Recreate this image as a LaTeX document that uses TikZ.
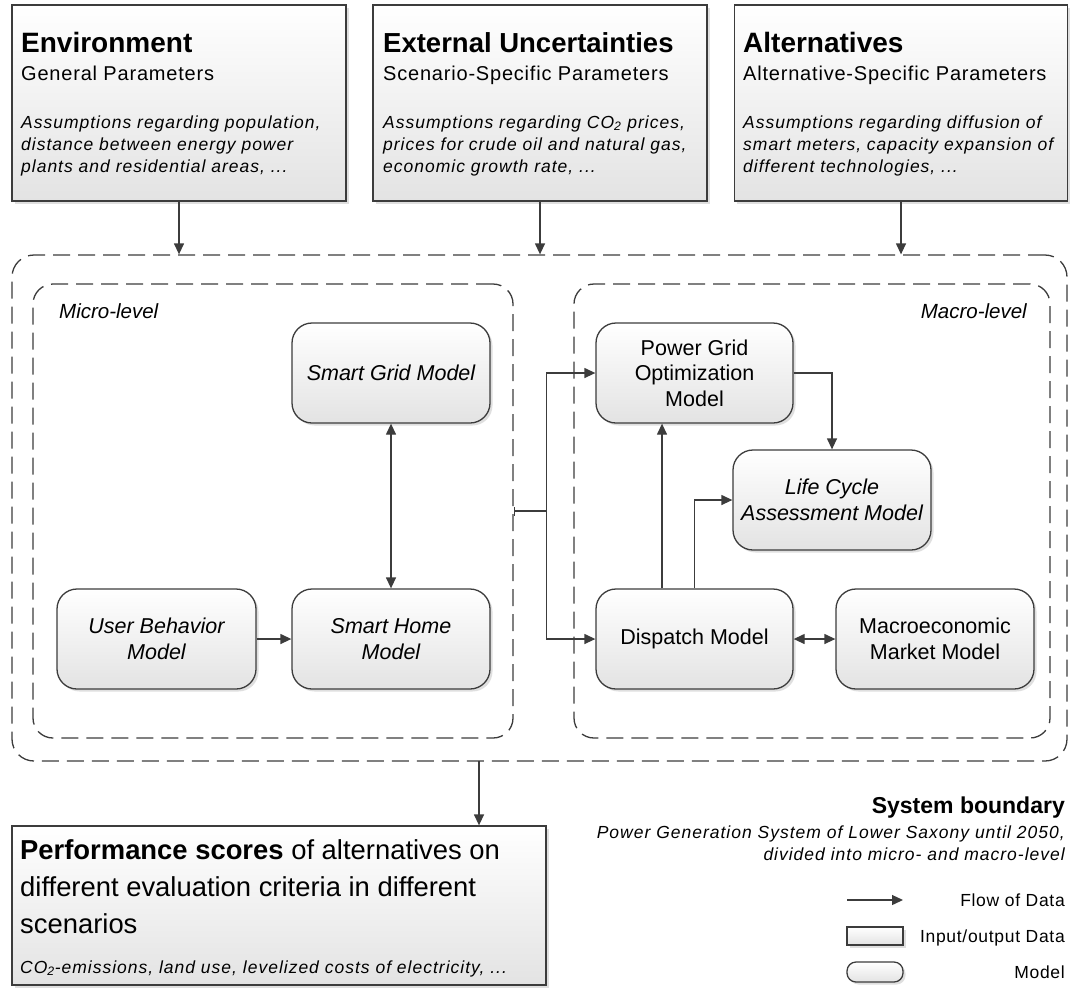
\documentclass[tikz,border=0pt]{standalone}
\usepackage{fontspec}
\setmainfont{Liberation Sans}
\newfontfamily\spit[LetterSpace=5.7]{Liberation Sans}
\newfontfamily\spreg[LetterSpace=4]{Liberation Sans}
\usetikzlibrary{arrows.meta,shadows,calc}
\definecolor{lc}{HTML}{3C3C3C}
\newcommand{\fs}[2]{\fontsize{#1}{#2}\selectfont}
\tikzset{
  ln/.style={draw=lc, line width=1.3pt},
  databox/.style={ln, rectangle, top color=white, bottom color=black!11,
    drop shadow={shadow xshift=2.5pt, shadow yshift=-2.5pt, fill=black!25}, inner sep=0pt},
  modelbox/.style={databox, rounded corners=20pt, minimum width=198pt, minimum height=100pt,
    align=center, text=black},
  boundary/.style={draw=lc, line width=1.3pt, dash pattern=on 17pt off 8pt, rounded corners=22pt,
    rectangle, inner sep=0pt},
  lbl/.style={inner sep=0pt, anchor=base west, text=black},
  lblr/.style={inner sep=0pt, anchor=base east, text=black},
  smallit/.style={font=\spit\fs{17.5}{22}\itshape},
  smallrg/.style={font=\spreg\fs{17.5}{22}},
  subt/.style={font=\spreg\fs{20}{24}},
  mdl/.style={font=\fs{21.5}{25.5}},
  mdlit/.style={font=\fs{21.5}{25.5}\itshape},
  flow/.style={draw=lc, line width=1.3pt, -{Triangle[length=11pt,width=10pt]}},
  flowtwo/.style={draw=lc, line width=1.3pt, {Triangle[length=11pt,width=10pt]}-{Triangle[length=11pt,width=10pt]}},
}
\begin{document}
\begin{tikzpicture}[x=1pt,y=-1pt]
\useasboundingbox (0,0) rectangle (1070,989);

% boundaries
\node[boundary, minimum width=1055pt, minimum height=506pt] (sys) at (539.5,508) {};
\node[boundary, minimum width=480pt, minimum height=454pt, rounded corners=20pt] (micro) at (273,511) {};
\node[boundary, minimum width=476pt, minimum height=454pt, rounded corners=20pt] (macro) at (812,511) {};
\node[lbl, font=\fs{20.5}{24}\itshape] (microL) at (59,318) {Micro-level};
\node[lblr, font=\fs{20.5}{24}\itshape] (macroL) at (1027,318) {Macro-level};

% top data boxes
\node[databox, minimum width=334pt, minimum height=196pt] (env) at (179,103) {};
\node[databox, minimum width=334pt, minimum height=196pt] (ext) at (540,103) {};
\node[databox, minimum width=333pt, minimum height=196pt] (alt) at (901,103) {};

\node[lbl, font=\fs{28}{32}\bfseries] (envT) at (21,52) {Environment};
\node[lbl, subt] (envS) at (21,80) {General Parameters};
\node[lbl, smallit] (envA) at (21,128) {Assumptions regarding population,};
\node[lbl, smallit] (envB) at (21,150) {distance between energy power};
\node[lbl, smallit] (envC) at (21,172) {plants and residential areas, ...};

\node[lbl, font=\fs{27.5}{32}\bfseries] (extT) at (383,52) {External Uncertainties};
\node[lbl, subt] (extS) at (383,80) {Scenario-Specific Parameters};
\node[lbl, smallit] (extA) at (383,128) {Assumptions regarding CO\textsubscript{2} prices,};
\node[lbl, smallit] (extB) at (383,150) {prices for crude oil and natural gas,};
\node[lbl, smallit] (extC) at (383,172) {economic growth rate, ...};

\node[lbl, font=\fs{28}{32}\bfseries] (altT) at (743,52) {Alternatives};
\node[lbl, subt] (altS) at (743,80) {Alternative-Specific Parameters};
\node[lbl, smallit] (altA) at (743,128) {Assumptions regarding diffusion of};
\node[lbl, smallit] (altB) at (743,150) {smart meters, capacity expansion of};
\node[lbl, smallit] (altC) at (743,172) {different technologies, ...};

% models
\node[modelbox, mdlit] (sg) at (391,373) {Smart Grid Model};
\node[modelbox, mdlit] (sh) at (391,639) {Smart Home\\Model};
\node[modelbox, minimum width=199pt, mdlit] (ub) at (156.5,639) {User Behavior\\Model};
\node[modelbox, minimum width=197pt, mdl] (pgo) at (694.5,373) {Power Grid\\Optimization\\Model};
\node[modelbox, minimum width=197pt, mdl] (disp) at (694.5,639) {Dispatch Model};
\node[modelbox, mdlit] (lca) at (832,500) {Life Cycle\\Assessment Model};
\node[modelbox, mdl] (mac) at (935,639) {Macroeconomic\\Market Model};

% connectors
\draw[flow] (env.south) -- (env.south |- sys.north);
\draw[flow] (ext.south) -- (ext.south |- sys.north);
\draw[flow] (alt.south) -- (alt.south |- sys.north);

\draw[flowtwo] (sg.south) -- (sh.north);
\draw[flow] (ub.east) -- (sh.west);
\draw[draw=lc, line width=1.3pt, {Bar[width=9pt,line width=1.3pt]}-] (micro.east) -- ++(33,0) coordinate (br);
\draw[flow] (br) |- (pgo.west);
\draw[flow] (br) |- (disp.west);
\draw[flow] ([xshift=-32.5pt]disp.north) -- ([xshift=-32.5pt]disp.north |- pgo.south);
\draw[flow] (disp.north) |- (lca.west);
\draw[flow] (pgo.east) -| (lca.north);
\draw[flowtwo] (disp.east) -- (mac.west);

% output box
\node[databox, minimum width=534pt, minimum height=159pt] (perf) at (279,905.5) {};
\coordinate (outp) at (479,761);
\draw[flow] (outp) -- (outp |- perf.north);
\node[lbl, font=\fs{27.4}{34}] (perfA) at (20,859) {\textbf{Performance scores} of alternatives on};
\node[lbl, font=\fs{27.4}{34}] (perfB) at (20,896) {different evaluation criteria in different};
\node[lbl, font=\fs{27.4}{34}] (perfC) at (20,933) {scenarios};
\node[lbl, smallit] (perfD) at (20,973) {CO\textsubscript{2}-emissions, land use, levelized costs of electricity, ...};

% legend
\node[lblr, font=\fs{23}{26}\bfseries] (sbT) at (1065,813) {System boundary};
\node[lblr, smallit] (sbA) at (1065,838) {Power Generation System of Lower Saxony until 2050,};
\node[lblr, smallit] (sbB) at (1065,860) {divided into micro- and macro-level};

\coordinate (la1) at (847,900);
\coordinate (la2) at (903,900);
\draw[flow] (la1) -- (la2);
\node[lblr, smallrg] (lgA) at (1065,906) {Flow of Data};
\node[databox, minimum width=56pt, minimum height=18pt] (lgbox) at (875,936) {};
\node[lblr, smallrg] (lgB) at (1065,942) {Input/output Data};
\node[databox, rounded corners=9pt, minimum width=56pt, minimum height=20pt] (lgmod) at (875,972) {};
\node[lblr, smallrg] (lgC) at (1065,978) {Model};
\end{tikzpicture}
\end{document}
